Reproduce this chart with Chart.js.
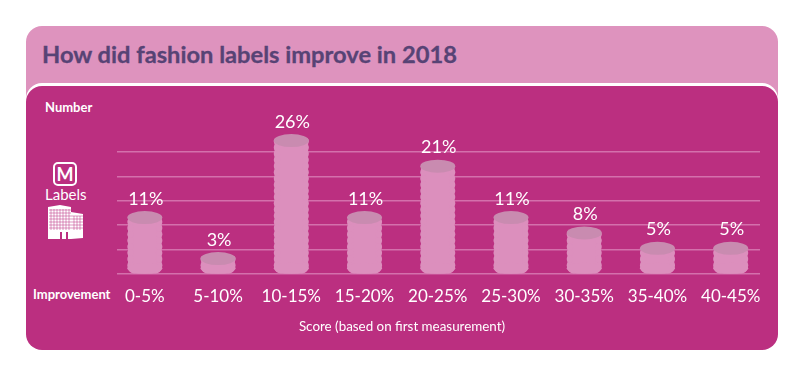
<!DOCTYPE html>
<html><head><meta charset="utf-8">
<script src="https://cdn.jsdelivr.net/npm/chart.js@4"></script>
<style>
html,body{margin:0;padding:0;background:#fff;width:800px;height:369px;overflow:hidden;font-family:Lato,sans-serif}
.abs{position:absolute}
#head{left:26px;top:26px;width:752px;height:75px;background:#de93be;border-radius:16px 16px 0 0}
#main{left:26px;top:86px;width:752px;height:264px;background:#bb2f80;border-radius:16px;box-shadow:0 -3px 0 #fff}
#title{left:42px;top:37px;font-size:23.7px;font-weight:700;color:#574375;white-space:nowrap;line-height:34px;-webkit-text-stroke:.3px #574375}
.lab{color:#fff;font-weight:700;font-size:13px;line-height:16px;white-space:nowrap}
canvas{position:absolute;left:0;top:0}
</style></head><body>
<div class="abs" id="head"></div><div class="abs" id="main"></div>
<div class="abs" id="title">How did fashion labels improve in 2018</div>
<div class="abs lab" style="left:45px;top:99px">Number</div>
<div class="abs lab" style="left:33px;top:286px">Improvement</div>
<div class="abs" style="left:45px;top:185px;color:#fff;font-size:15px;line-height:18px">Labels</div>
<svg class="abs" style="left:40px;top:160px" width="60" height="82" viewBox="0 0 60 82">
<rect x="14" y="3" width="22" height="22" rx="4" fill="none" stroke="#fff" stroke-width="2"/>
<text x="25" y="20.5" text-anchor="middle" font-family="Lato" font-weight="700" font-size="18" fill="#fff">M</text>
<path d="M8 47 L20 45 L31 47 L31 79 L8 79Z" fill="#fff"/>
<path d="M31 52 L43 54 L43 78 L31 79Z" fill="#fff"/>
<g stroke="#bb2f80" stroke-width=".5">
<path d="M11 49V70M14 49V70M17 49V70M20 49V70M23 49V70M26 49V70M29 49V70M34 56V70M37 56V70M40 56V70"/>
<path d="M9 50H31M9 53H31M9 56H43M9 59H43M9 62H43M9 65H43M9 68H43"/>
</g>
<rect x="20" y="72" width="2" height="7" fill="#bb2f80"/><rect x="26" y="72" width="2" height="7" fill="#bb2f80"/>
</svg>
<canvas id="c" width="800" height="369"></canvas>
<script>
const categories=["0-5%","5-10%","10-15%","15-20%","20-25%","25-30%","30-35%","35-40%","40-45%"];
const values=[11,3,26,11,21,11,8,5,5];
const gridValues=[0,4.76,9.52,14.28,19.04,23.8];
const axisTitle="Score (based on first measurement)";

const cylinders={id:'cylinders',
 afterDatasetDraw(chart){
  const ctx=chart.ctx, meta=chart.getDatasetMeta(0);
  ctx.save();
  meta.data.forEach((el,i)=>{
   const p=el.getProps(['x','y','base','width'],true);
   const hw=p.width/2;
   ctx.fillStyle='#dc8fbd';
   for(let y=p.base-8;y>p.y;y-=6.2){
    for(const s of [-1,1]){
     ctx.beginPath();ctx.arc(p.x+s*(hw-2.2),y,3.2,0,Math.PI*2);ctx.fill();
    }
   }
   ctx.beginPath();ctx.ellipse(p.x,p.base-5,hw+1,5.5,0,0,Math.PI*2);ctx.fill();
   ctx.fillStyle='#c98bb0';
   ctx.beginPath();ctx.ellipse(p.x,p.y,hw+1,6.5,0,0,Math.PI*2);ctx.fill();
   ctx.fillStyle='#fff';ctx.font='18px Lato';ctx.textAlign='center';ctx.textBaseline='alphabetic';
   ctx.fillText(values[i]+'%',p.x+1,p.y-13);
  });
  ctx.font='13.4px Lato';ctx.textAlign='center';ctx.fillStyle='#fff';ctx.textBaseline='alphabetic';
  ctx.fillText(axisTitle,402,331);
  ctx.restore();
 }};

new Chart(document.getElementById('c'),{
 type:'bar',
 data:{datasets:[{data:categories.map((c,i)=>({x:i,y:values[i]})),backgroundColor:'#dc8fbd',barThickness:33,
   borderWidth:0,borderRadius:{bottomLeft:6,bottomRight:6,topLeft:0,topRight:0},borderSkipped:false}]},
 plugins:[cylinders],
 options:{responsive:false,animation:false,
  layout:{padding:{left:117,right:40,top:120,bottom:20}},
  plugins:{legend:{display:false},tooltip:{enabled:false},title:{display:false}},
  scales:{
   x:{type:'linear',offset:false,min:-0.38,max:8.4,grid:{display:false},border:{display:false},
    afterFit(s){s.height=75;},
    ticks:{stepSize:1,includeBounds:false,autoSkip:false,maxRotation:0,color:'#fff',padding:4,font:{family:'Lato',size:17},
      callback:v=>categories[v]}},
   y:{min:0,max:30,display:true,border:{display:false},
    afterBuildTicks(s){s.ticks=gridValues.map(v=>({value:v}));},
    afterFit(s){s.width=0;},
    grid:{color:'#d470ac',lineWidth:1.5,drawTicks:false},
    ticks:{display:false}}
  }
 }
});
</script>
</body></html>
